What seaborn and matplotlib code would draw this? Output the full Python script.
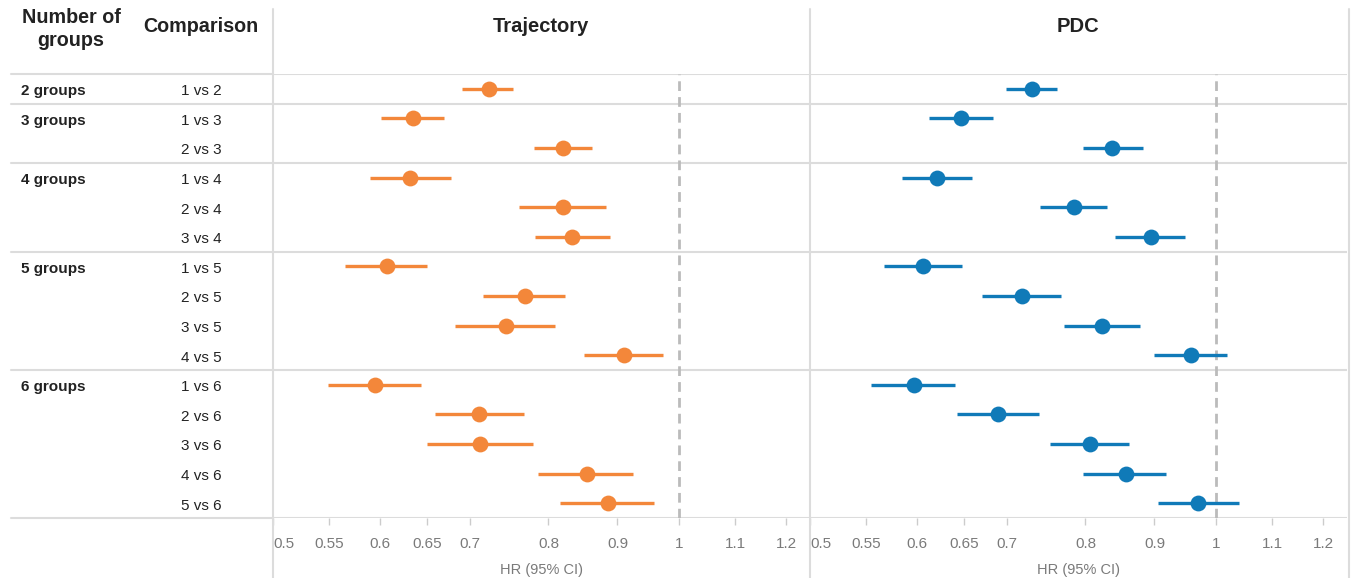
import numpy as np
import pandas as pd
import matplotlib
matplotlib.use("Agg")
import matplotlib.pyplot as plt
from matplotlib.lines import Line2D
from matplotlib.ticker import FixedLocator, NullLocator
import seaborn as sns

# ---- data ----
groups = ["2 groups", "3 groups", "", "4 groups", "", "",
          "5 groups", "", "", "", "6 groups", "", "", "", ""]
comparisons = ["1 vs 2", "1 vs 3", "2 vs 3", "1 vs 4", "2 vs 4", "3 vs 4",
               "1 vs 5", "2 vs 5", "3 vs 5", "4 vs 5",
               "1 vs 6", "2 vs 6", "3 vs 6", "4 vs 6", "5 vs 6"]
traj_hr = [0.723, 0.635, 0.820, 0.632, 0.820, 0.833, 0.607, 0.769, 0.744, 0.910,
           0.595, 0.710, 0.712, 0.854, 0.886]
traj_lo = [0.690, 0.601, 0.780, 0.590, 0.761, 0.782, 0.565, 0.715, 0.682, 0.850,
           0.549, 0.659, 0.650, 0.786, 0.816]
traj_hi = [0.753, 0.669, 0.862, 0.677, 0.883, 0.889, 0.650, 0.823, 0.809, 0.973,
           0.644, 0.767, 0.779, 0.924, 0.958]
pdc_hr = [0.730, 0.647, 0.837, 0.621, 0.784, 0.895, 0.606, 0.718, 0.823, 0.958,
          0.597, 0.689, 0.806, 0.857, 0.970]
pdc_lo = [0.698, 0.613, 0.797, 0.585, 0.740, 0.841, 0.567, 0.671, 0.771, 0.899,
          0.555, 0.642, 0.753, 0.797, 0.906]
pdc_hi = [0.762, 0.683, 0.883, 0.659, 0.830, 0.948, 0.648, 0.767, 0.878, 1.019,
          0.640, 0.739, 0.862, 0.918, 1.040]
tick_values = [0.5, 0.55, 0.6, 0.65, 0.7, 0.8, 0.9, 1, 1.1, 1.2]
tick_labels = ["0.5", "0.55", "0.6", "0.65", "0.7", "0.8", "0.9", "1", "1.1", "1.2"]
group_breaks = [0.5, 2.5, 5.5, 9.5]
panels = ["Trajectory", "PDC"]

sns.set_theme(style="white")
plt.rcParams["font.family"] = ["Liberation Sans", "DejaVu Sans"]

W, H = 1357, 578
fig = plt.figure(figsize=(W / 100, H / 100), dpi=100)

def fx(px):
    return px / W

def fy(py):
    return 1 - py / H

top_px, bot_px = 74, 518
GRID = "#dcdcdc"
DARK = "#222222"
GRAY = "#7a7a7a"
n = len(comparisons)
rows = np.arange(n)

# left table axis
axL = fig.add_axes([fx(11), fy(bot_px), fx(273 - 11), fy(top_px) - fy(bot_px)])
axL.set_xlim(0, 1)
axL.set_ylim(n - 0.5, -0.5)
axL.axis("off")
for i in rows:
    if groups[i]:
        axL.text(10 / 262, i + 0.08, groups[i], ha="left", va="center",
                 fontsize=11, fontweight="bold", color=DARK)
    axL.text((201 - 11) / 262, i + 0.08, comparisons[i], ha="center", va="center",
             fontsize=11, color=DARK)
for b in [-0.5] + group_breaks + [n - 0.5]:
    axL.axhline(b, color=GRID, lw=1.5, clip_on=False)

colors = ["#f3873a", "#107ab8"]
data_sets = [(traj_hr, traj_lo, traj_hi), (pdc_hr, pdc_lo, pdc_hi)]
lefts = [273, 810]
for k, (name, (hr, lo, hi), col, lp) in enumerate(zip(panels, data_sets, colors, lefts)):
    ax = fig.add_axes([fx(lp), fy(bot_px), fx(537), fy(top_px) - fy(bot_px)])
    df = pd.DataFrame({"row": rows, "hr": hr, "lo": lo, "hi": hi})
    ax.set_xscale("log")
    ax.set_xlim(0.5, 1.25)
    ax.set_ylim(n - 0.5, -0.5)
    for b in [-0.5] + group_breaks + [n - 0.5]:
        ax.axhline(b, color=GRID, lw=1.5, zorder=0)
    ax.axvline(1, color="#bbbbbb", lw=2, ls=(0, (3.5, 2.2)), zorder=1)
    ax.hlines(df["row"], df["lo"], df["hi"], color=col, lw=2.4, zorder=2)
    sns.scatterplot(data=df, x="hr", y="row", color=col, s=130, linewidth=0,
                    ax=ax, zorder=3, legend=False)
    ax.set_ylim(n - 0.5, -0.5)
    ax.set_xlim(0.5, 1.25)
    ax.xaxis.set_major_locator(FixedLocator(tick_values))
    ax.xaxis.set_minor_locator(NullLocator())
    ax.set_xticklabels(tick_labels)
    ax.tick_params(axis="x", which="major", length=5, width=1, color="#cccccc",
                   labelsize=11, labelcolor=GRAY, pad=9, bottom=True)
    lbls = ax.get_xticklabels()
    lbls[0].set_horizontalalignment("left")
    ax.set_yticks([])
    ax.set_ylabel("")
    ax.set_xlabel("HR (95% CI)", fontsize=10.5, color=GRAY, labelpad=8)
    for s in ax.spines.values():
        s.set_visible(False)
    ax.set_facecolor("none")
    fig.text(fx(lp + 268), fy(26), name, ha="center", va="center",
             fontsize=14.5, fontweight="bold", color=DARK)

fig.text(fx(71), fy(29), "Number of\ngroups", ha="center", va="center",
         fontsize=14.2, fontweight="bold", color=DARK, linespacing=1.25)
fig.text(fx(201), fy(27), "Comparison", ha="center", va="center",
         fontsize=14.2, fontweight="bold", color=DARK)

for xp in [273, 810, 1349]:
    fig.add_artist(Line2D([fx(xp), fx(xp)], [fy(9), fy(578)], color=GRID, lw=1.5))

fig.savefig("out.png", dpi=100, facecolor="white")
